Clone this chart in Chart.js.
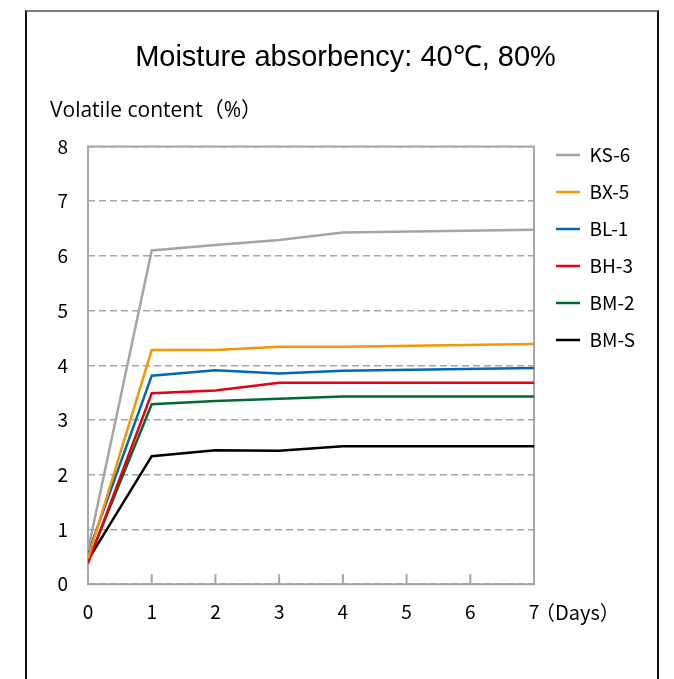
<!DOCTYPE html>
<html>
<head>
<meta charset="utf-8">
<script src="https://cdn.jsdelivr.net/npm/chart.js@4"></script>
<style>
  html, body { margin: 0; padding: 0; background: #fff; }
  #wrap { position: relative; width: 674px; height: 679px; overflow: hidden; }
  #frame {
    position: absolute; left: 25px; top: 10px; width: 630px; height: 720px;
    border-left: 2px solid #111; border-right: 2px solid #111; border-top: 2px solid #7a7a7a;
  }
  canvas { position: absolute; left: 0; top: 0; }
</style>
</head>
<body>
<div id="wrap">
  <div id="frame"></div>
  <canvas id="chart" width="674" height="679"></canvas>
</div>
<script>
// Chart data
const days = [0, 1, 2, 3, 4, 7];
const seriesNames = ['KS-6', 'BX-5', 'BL-1', 'BH-3', 'BM-2', 'BM-S'];
const ks6 = [0.62, 6.10, 6.20, 6.29, 6.43, 6.48];
const bx5 = [0.47, 4.28, 4.28, 4.34, 4.34, 4.39];
const bl1 = [0.56, 3.81, 3.91, 3.85, 3.90, 3.95];
const bh3 = [0.38, 3.49, 3.54, 3.68, 3.68, 3.68];
const bm2 = [0.42, 3.29, 3.35, 3.39, 3.43, 3.43];
const bms = [0.44, 2.34, 2.45, 2.44, 2.52, 2.52];
const xTicks = [0, 1, 2, 3, 4, 5, 6, 7];
const yTicks = [0, 1, 2, 3, 4, 5, 6, 7, 8];

const seriesValues = [ks6, bx5, bl1, bh3, bm2, bms];
const seriesColors = ['#a5a5a5', '#f39800', '#0068b7', '#e60012', '#006934', '#000000'];

const jpFont = '"Noto Sans CJK JP", "Noto Sans", sans-serif';
const axisGray = '#a6a6a6';

// Plot frame, inward x tick marks and the "(Days)" unit label
const framePlugin = {
    id: 'framePlugin',
    afterLayout(chart) {
        // nudge legend to sit level with the top of the plot
        const lg = chart.legend;
        lg.top -= 19; lg.bottom -= 19;
        lg.left += 4; lg.right += 4;
    },
    beforeDatasetsDraw(chart) {
        const { ctx, chartArea: a, scales: { x } } = chart;
        ctx.save();
        ctx.strokeStyle = axisGray;
        ctx.lineWidth = 2;
        ctx.setLineDash([]);
        ctx.strokeRect(a.left, a.top, a.right - a.left, a.bottom - a.top);
        ctx.beginPath();
        x.ticks.forEach(t => {
            const px = x.getPixelForValue(t.value);
            ctx.moveTo(px, a.bottom);
            ctx.lineTo(px, a.bottom - 10);
        });
        ctx.stroke();
        ctx.restore();
    },
    afterDraw(chart) {
        const { ctx, chartArea: a, scales: { x } } = chart;
        ctx.save();
        ctx.font = '20px ' + jpFont;
        ctx.fillStyle = '#000';
        ctx.textAlign = 'left';
        ctx.textBaseline = 'middle';
        ctx.fillText('（Days）', x.getPixelForValue(xTicks[xTicks.length - 1]) + 1, a.bottom + 28);
        ctx.restore();
    }
};

const ctx = document.getElementById('chart').getContext('2d');
new Chart(ctx, {
    type: 'line',
    data: {
        datasets: seriesNames.map((name, i) => ({
            label: name,
            data: days.map((d, j) => ({ x: d, y: seriesValues[i][j] })),
            borderColor: seriesColors[i],
            backgroundColor: seriesColors[i],
            borderWidth: 2.5,
            pointRadius: 0,
            tension: 0,
            fill: false
        }))
    },
    options: {
        responsive: false,
        animation: false,
        layout: { padding: { left: 50, right: 33, top: 0, bottom: 47 } },
        plugins: {
            title: {
                display: true,
                text: 'Moisture absorbency: 40℃, 80%',
                color: '#000',
                font: { family: '"Liberation Sans", Arial, sans-serif', size: 29, weight: 'normal' },
                padding: { top: 41, bottom: 10 }
            },
            subtitle: {
                display: true,
                text: 'Volatile content（%）',
                align: 'start',
                color: '#000',
                font: { family: '"Open Sans", ' + jpFont, size: 21 },
                padding: { top: 12.5, bottom: 23 }
            },
            legend: {
                position: 'right',
                align: 'start',
                fullSize: false,
                labels: {
                    usePointStyle: true,
                    pointStyle: 'line',
                    pointStyleWidth: 24,
                    color: '#000',
                    font: { family: jpFont, size: 19 },
                    padding: 18
                }
            },
            tooltip: { enabled: false }
        },
        scales: {
            x: {
                type: 'linear',
                min: xTicks[0],
                max: xTicks[xTicks.length - 1],
                grid: { display: false },
                border: { display: false },
                afterBuildTicks: s => { s.ticks = xTicks.map(v => ({ value: v })); },
                ticks: { color: '#000', font: { family: jpFont, size: 19 }, padding: 8.5 }
            },
            y: {
                min: yTicks[0],
                max: yTicks[yTicks.length - 1],
                afterBuildTicks: s => { s.ticks = yTicks.map(v => ({ value: v })); },
                afterFit: s => { s.width = 38; },
                grid: { color: axisGray, lineWidth: 1.5, drawTicks: false },
                border: { display: false, dash: [7, 4] },
                ticks: { color: '#000', font: { family: jpFont, size: 19 }, padding: 20 }
            }
        }
    },
    plugins: [framePlugin]
});
</script>
</body>
</html>
